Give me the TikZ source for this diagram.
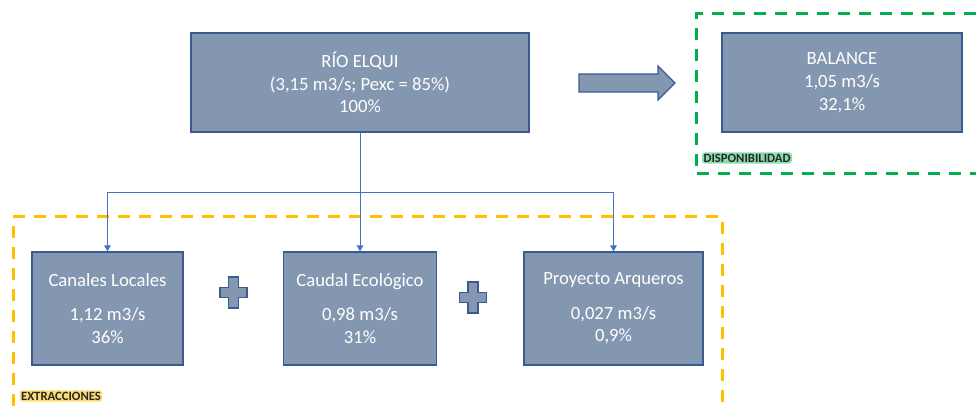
\documentclass[tikz,border=0pt]{standalone}
\usepackage{fontspec}
\setmainfont{Carlito}
\usetikzlibrary{arrows.meta}
\definecolor{boxfill}{HTML}{8497B0}
\definecolor{boxline}{HTML}{3A5A94}
\definecolor{linkblue}{HTML}{4472C4}
\definecolor{dispgreen}{HTML}{00B050}
\definecolor{extrorange}{HTML}{FFC000}
\begin{document}
\begin{tikzpicture}[x=.75pt,y=-.75pt,>={Triangle[width=5pt,length=4.5pt]},
    every node/.style={font=\fontsize{14}{17}\selectfont},
    plate/.style={draw=boxline,fill=boxfill,line width=1pt},
    box/.style={plate,text=white,align=center,inner sep=0pt},
    link/.style={linkblue,line width=.75pt},
    frame/.style={line width=2.25pt,dash pattern=on 9pt off 6.75pt},
    tag/.style={font=\fontsize{9.5}{10}\selectfont\bfseries,text=black!85,inner sep=1pt,rounded corners=2pt}]
    \useasboundingbox (0,0) rectangle (976,406);
    % marcos
    \draw[frame,dispgreen] (976,14) -- (696,14) -- (696,174) -- (976,174);
    \draw[frame,extrorange] (13,406) -- (13,217) -- (722,217) -- (722,406);
    \node[tag,fill=dispgreen!45] (disp) at (747,158) {DISPONIBILIDAD};
    \node[tag,fill=extrorange!55] (extr) at (61,396) {EXTRACCIONES};
    % cajas
    \node[box,minimum width=253.5pt,minimum height=74.25pt] (rio) at (360,82.5) {RÍO ELQUI\\(3,15 m3/s; Pexc = 85\%)\\100\%};
    \node[box,minimum width=180pt,minimum height=74.25pt] (balance) at (842,82.5) {BALANCE\\1,05 m3/s\\32,1\%};
    \node[box,minimum width=113.25pt,minimum height=84.75pt] (canales) at (107.5,308.5) {Canales Locales\\[9pt]1,12 m3/s\\36\%};
    \node[box,minimum width=114.75pt,minimum height=84.75pt] (caudal) at (360,308.5) {Caudal Ecológico\\[9pt]0,98 m3/s\\31\%};
    \node[box,minimum width=134.25pt,minimum height=84.75pt] (arqueros) at (613.5,308.5) {Proyecto Arqueros\\[9pt]0,027 m3/s\\0,9\%};
    % flecha y signos
    \draw[plate] (579,74) -- (658,74) -- (658,66) -- (675,83) -- (658,100) -- (658,92) -- (579,92) -- cycle;
    \foreach \cx/\cy in {233.5/292.5,473/297.5}
        \draw[plate] (\cx-5,\cy-15.5) -- (\cx+5,\cy-15.5) -- (\cx+5,\cy-5) -- (\cx+13.5,\cy-5) -- (\cx+13.5,\cy+5) -- (\cx+5,\cy+5) -- (\cx+5,\cy+15.5) -- (\cx-5,\cy+15.5) -- (\cx-5,\cy+5) -- (\cx-13.5,\cy+5) -- (\cx-13.5,\cy-5) -- (\cx-5,\cy-5) -- cycle;
    % conectores
    \coordinate (split) at (360,193);
    \draw[link] (rio.south) -- (split);
    \draw[link,->] (split) -| (canales.north);
    \draw[link,->] (split) -- (caudal.north);
    \draw[link,->] (split) -| (arqueros.north);
\end{tikzpicture}
\end{document}
